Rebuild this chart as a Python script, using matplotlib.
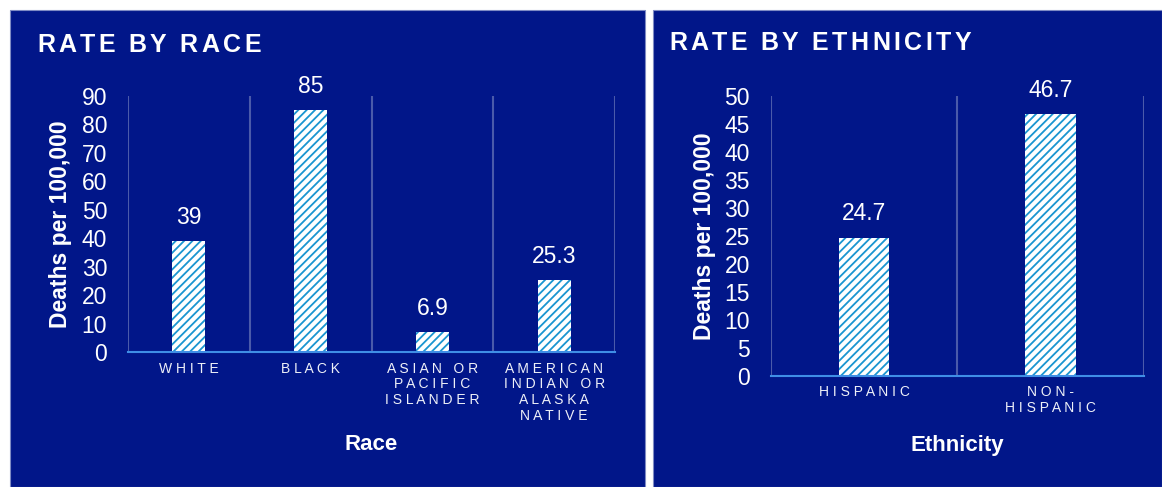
import matplotlib
matplotlib.use('Agg')
import matplotlib.pyplot as plt
from matplotlib.patches import Rectangle

plt.rcParams['font.family'] = ['Liberation Sans', 'DejaVu Sans']
plt.rcParams['hatch.linewidth'] = 1.3

# data
race_labels = ['W H I T E', 'B L A C K',
               'A S I A N   O R\nP A C I F I C\nI S L A N D E R',
               'A M E R I C A N\nI N D I A N   O R\nA L A S K A\nN A T I V E']
race_rates = [39, 85, 6.9, 25.3]
race_value_text = ['39', '85', '6.9', '25.3']

eth_labels = ['H I S P A N I C', 'N O N -\nH I S P A N I C']
eth_rates = [24.7, 46.7]
eth_value_text = ['24.7', '46.7']

navy = '#011689'
grid_c = '#4a5aaa'
base_c = '#3f8ee6'
hatch_c = '#1a95d0'

W, H = 1162, 487
fig = plt.figure(figsize=(W/100, H/100), dpi=100)
fig.patch.set_facecolor('white')

# panels
fig.patches.append(Rectangle((10/W, 0), 635/W, 477/H, transform=fig.transFigure,
                             facecolor=navy, edgecolor='#7f8bc4', lw=0.8, zorder=-5))
fig.patches.append(Rectangle((653/W, 0), 509/W, 477/H, transform=fig.transFigure,
                             facecolor=navy, edgecolor='#7f8bc4', lw=0.8, zorder=-5))

rend = fig.canvas.get_renderer()

def spaced_title(x_px, y_px, s, gap=3.5, space=9.5):
    xp = x_px
    for ch in s:
        if ch == ' ':
            xp += space
            continue
        t = fig.text(xp/W, 1 - y_px/H, ch, color='white', fontsize=18,
                     fontweight='bold', va='center', ha='left')
        xp += t.get_window_extent(rend).width + gap

spaced_title(37, 45, 'RATE BY RACE')
spaced_title(669, 43, 'RATE BY ETHNICITY')

def style_axes(ax, labels, ymax, step, ylabel, xlabel, xlab_y, ylab_x):
    ax.set_facecolor(navy)
    ax.set_xlim(-0.5, len(labels) - 0.5)
    ax.set_ylim(0, ymax)
    ax.set_yticks(range(0, ymax + 1, step))
    ax.set_xticks(range(len(labels)))
    ax.set_xticklabels(labels, fontsize=10, color='#eef0f8', linespacing=1.15)
    ax.tick_params(axis='x', length=0, pad=7)
    ax.tick_params(axis='y', length=0, pad=15, labelsize=16.5, labelcolor='white')
    for s in ['top', 'right', 'left']:
        ax.spines[s].set_visible(False)
    ax.spines['bottom'].set_color(base_c)
    ax.spines['bottom'].set_linewidth(1.5)
    for b in range(len(labels) + 1):
        ax.axvline(b - 0.5, color=grid_c, lw=1.5, zorder=0)
    ax.set_ylabel(ylabel, fontsize=16.5, fontweight='bold', color='white', va='bottom')
    ax.yaxis.set_label_coords(ylab_x, 0.5)
    ax.set_xlabel(xlabel, fontsize=16, fontweight='bold', color='white', va='center')
    ax.xaxis.set_label_coords(0.5, xlab_y)

def draw_bars(ax, vals, texts):
    xs = range(len(vals))
    ax.bar(xs, vals, 0.27, color='white', edgecolor=hatch_c, hatch='////',
           linewidth=0, zorder=2)
    for x, v, t in zip(xs, vals, texts):
        ax.annotate(t, (x, v), xytext=(0, 12.5), textcoords='offset points',
                    ha='center', va='baseline', color='white', fontsize=16.5)

ax1 = fig.add_axes([128/W, 1 - 352/H, 487/W, 256/H])
style_axes(ax1, race_labels, 90, 10, 'Deaths per 100,000', 'Race', -0.363, -0.115)
draw_bars(ax1, race_rates, race_value_text)

ax2 = fig.add_axes([770.7/W, 1 - 375.7/H, 373/W, 279.7/H])
style_axes(ax2, eth_labels, 50, 5, 'Deaths per 100,000', 'Ethnicity', -0.248, -0.146)
draw_bars(ax2, eth_rates, eth_value_text)

fig.savefig('out.png', dpi=100, facecolor='white')
